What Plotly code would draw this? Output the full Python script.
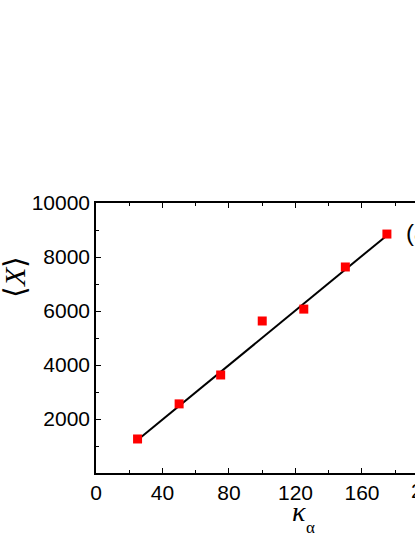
"""Mean <X> versus kappa_alpha: measured points with a straight-line fit."""

import plotly.graph_objects as go

kappa = [25, 50, 75, 100, 125, 150, 175]
mean_x = [1260, 2560, 3630, 5630, 6070, 7630, 8850]

# end points of the fitted line
fit_kappa = [25, 175]
fit_mean_x = [1220, 8800]

y_ticks = [2000, 4000, 6000, 8000, 10000]
y_tick_text = ["2000", "4000", "6000", "8000", "10000"]

TICK_FONT = dict(family="Liberation Sans, Arial, sans-serif", size=21, color="black")
SERIF = "Liberation Serif, Times New Roman, serif"

fig = go.Figure()
fig.add_trace(go.Scatter(x=fit_kappa, y=fit_mean_x, mode="lines",
                         line=dict(color="black", width=2), showlegend=False))
fig.add_trace(go.Scatter(x=kappa, y=mean_x, mode="markers",
                         marker=dict(symbol="square", size=9, color="#ff0000"),
                         showlegend=False))

axis_common = dict(showgrid=False, zeroline=False, showline=True, linecolor="black",
                   linewidth=1.5, ticks="inside", ticklen=5, tickwidth=1.2,
                   tickcolor="black", tickfont=TICK_FONT)

fig.update_xaxes(range=[0, 191.9], dtick=40, tick0=0, mirror="ticks",
                 minor=dict(dtick=20, ticks="inside", ticklen=3, tickcolor="black"),
                 **axis_common)
fig.update_yaxes(range=[0, 10000], tickvals=y_ticks, ticktext=y_tick_text, mirror=False,
                 minor=dict(dtick=1000, ticks="inside", ticklen=3, tickcolor="black"),
                 **axis_common)

# tick label of 200, sits past the right edge of the window (only "2" shows)
fig.add_annotation(x=1.0423, y=0, xref="paper", yref="paper", text="200", showarrow=False,
                   xanchor="center", yanchor="top", yshift=-4, font=TICK_FONT)
# panel label, cut by the right edge
fig.add_annotation(x=185.3, y=8900, xref="x", yref="y", text="(a)", showarrow=False,
                   xanchor="left", yanchor="middle",
                   font=dict(family="Liberation Sans, Arial", size=24, color="black"))
# axis titles
fig.add_annotation(x=-0.255, y=7250, xref="paper", yref="y", text="⟨<i>X</i>⟩",
                   textangle=-90, showarrow=False, xanchor="center", yanchor="middle",
                   font=dict(family=SERIF, size=30, color="black"))
fig.add_annotation(x=122.1, y=-0.142, xref="x", yref="paper", text="<i>κ</i>",
                   showarrow=False, xanchor="center", yanchor="middle",
                   font=dict(family=SERIF, size=28, color="black"))
fig.add_annotation(x=129.3, y=-0.202, xref="x", yref="paper", text="α",
                   showarrow=False, xanchor="center", yanchor="middle",
                   font=dict(family=SERIF, size=17, color="black"))

fig.update_layout(width=415, height=537, autosize=False,
                  margin=dict(l=96, r=0, t=203, b=64),
                  paper_bgcolor="white", plot_bgcolor="white")

fig.write_html("out.html", config={"displayModeBar": False},
               post_script="document.body.style.margin='0';")
